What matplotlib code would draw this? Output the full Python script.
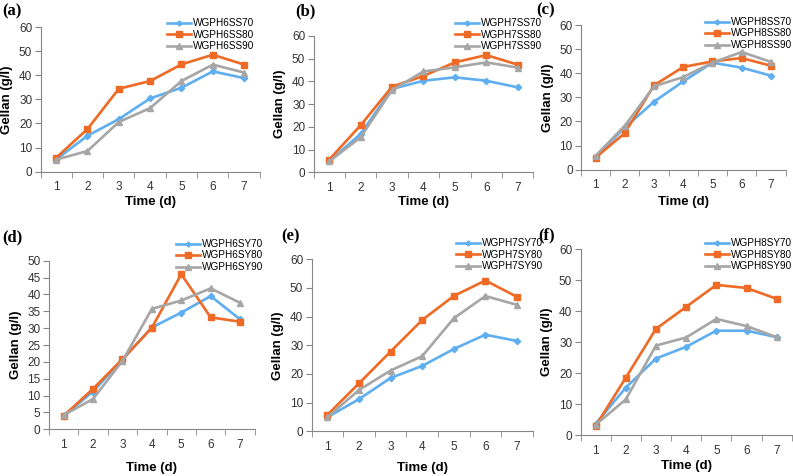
import matplotlib.pyplot as plt

plt.rcParams['font.family'] = ['Liberation Sans', 'DejaVu Sans']

days = [1, 2, 3, 4, 5, 6, 7]

# (a) pH 6, SS
a70 = [5.1, 14.9, 21.8, 30.4, 34.8, 41.6, 38.8]
a80 = [5.8, 17.7, 34.4, 37.6, 44.5, 48.5, 44.4]
a90 = [5.0, 8.6, 20.6, 26.4, 37.6, 44.4, 41.1]
# (b) pH 7, SS
b70 = [4.8, 16.9, 36.7, 40.3, 41.8, 40.3, 37.4]
b80 = [5.6, 20.7, 37.7, 42.4, 48.4, 51.6, 47.4]
b90 = [4.8, 15.4, 36.2, 44.4, 46.2, 48.4, 46.1]
# (c) pH 8, SS
c70 = [5.4, 17.5, 28.2, 36.6, 44.4, 42.3, 39.0]
c80 = [5.0, 15.2, 35.0, 42.6, 44.9, 46.3, 43.1]
c90 = [5.8, 18.2, 34.6, 38.4, 44.4, 48.8, 44.7]
# (d) pH 6, SY
d70 = [4.0, 11.2, 20.7, 30.2, 34.6, 39.5, 32.6]
d80 = [4.0, 12.0, 20.8, 30.1, 46.0, 33.2, 31.9]
d90 = [4.2, 9.0, 20.3, 35.7, 38.2, 41.8, 37.5]
# (e) pH 7, SY
e70 = [4.9, 11.2, 18.6, 22.8, 28.7, 33.7, 31.5]
e80 = [5.7, 16.7, 27.8, 38.8, 47.2, 52.6, 46.9]
e90 = [4.9, 14.4, 21.2, 26.2, 39.4, 47.2, 44.1]
# (f) pH 8, SY
f70 = [3.6, 15.3, 24.7, 28.5, 33.7, 33.7, 31.6]
f80 = [2.9, 18.5, 34.3, 41.4, 48.5, 47.5, 44.0]
f90 = [3.3, 11.5, 28.9, 31.5, 37.5, 35.2, 31.6]

W, H = 793, 476
fig = plt.figure(figsize=(W / 100, H / 100), dpi=100)

# panel: label, series, names, axes box (px: left, right, y0, ytop), ymax, ystep, legend pos (px), label pos (px)
panels = [
    ('(a)', (a70, a80, a90), 'WGPH6SS', (40.5, 259.8, 171.7, 27.0), 60, 10, (167, 18), (2, 11)),
    ('(b)', (b70, b80, b90), 'WGPH7SS', (313.5, 533.4, 172.3, 36.0), 60, 10, (455, 18), (295, 11)),
    ('(c)', (c70, c80, c90), 'WGPH8SS', (581.0, 785.5, 169.7, 25.0), 60, 10, (705, 17), (536, 10)),
    ('(d)', (d70, d80, d90), 'WGPH6SY', (48.9, 254.8, 429.3, 260.7), 50, 5, (176, 239), (2, 237)),
    ('(e)', (e70, e80, e90), 'WGPH7SY', (311.5, 532.8, 431.3, 259.3), 60, 10, (456, 238), (281, 236)),
    ('(f)', (f70, f80, f90), 'WGPH8SY', (580.5, 791.8, 435.0, 249.3), 60, 10, (705, 238), (538, 235)),
]

colors = ['#5FAEF0', '#EE6A25', '#A6A6A6']
markers = ['D', 's', '^']
msizes = [3.2, 5, 5]
suffix = ['70', '80', '90']
xlabel_y = [201.7, 201.7, 201.7, 468, 468, 466]

for k, (lab, series, name, box, ymax, ystep, lpos, tpos) in enumerate(panels):
    x0, x1, yb, yt = box
    ax = fig.add_axes([x0 / W, 1 - yb / H, (x1 - x0) / W, (yb - yt) / H])
    for s, c, m, ms, suf in zip(series, colors, markers, msizes, suffix):
        ax.plot(days, s, color=c, marker=m, markersize=ms, linewidth=1.9,
                label=name + suf)
    ax.set_xlim(0.5, 7.5)
    ax.set_ylim(0, ymax)
    ax.set_yticks(range(0, ymax + 1, ystep))
    ax.set_xticks(days)
    ax.set_xticks([i + 0.5 for i in range(8)], minor=True)
    ax.tick_params(axis='x', which='major', length=0, labelsize=8.5, colors='#333333', pad=7)
    ax.tick_params(axis='x', which='minor', length=4, color='#868686', direction='out')
    ax.tick_params(axis='y', length=4, color='#868686', labelsize=8.5, labelcolor='#333333', pad=2)
    for sp in ['top', 'right']:
        ax.spines[sp].set_visible(False)
    for sp in ['left', 'bottom']:
        ax.spines[sp].set_color('#868686')
        ax.spines[sp].set_linewidth(0.8)
    ax.set_ylabel('Gellan (g/l)', fontsize=9.5, fontweight='bold', labelpad=4)
    fig.text((x0 + x1) / 2 / W, 1 - xlabel_y[k] / H, 'Time (d)', fontsize=9.5,
             fontweight='bold', ha='center', va='center')
    ax.legend(loc='upper left', bbox_to_anchor=(lpos[0] / W, 1 - lpos[1] / H),
              bbox_transform=fig.transFigure, frameon=False, fontsize=7.2,
              handlelength=2.4, handletextpad=0.2, borderpad=0, borderaxespad=0,
              labelspacing=0.15, markerscale=0.8)
    fig.text(tpos[0] / W, 1 - tpos[1] / H, lab, fontsize=12, fontweight='bold',
             family='Liberation Serif', ha='left', va='center')

fig.savefig('out.png', dpi=100)
